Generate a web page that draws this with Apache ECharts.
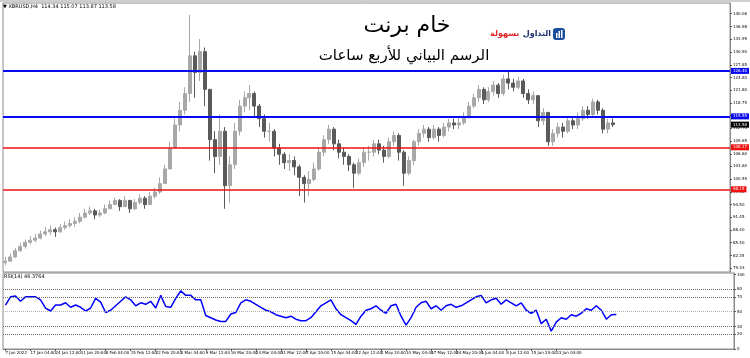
<!DOCTYPE html>
<html><head><meta charset="utf-8">
<script src="https://cdn.jsdelivr.net/npm/echarts@6/dist/echarts.min.js"></script>
<style>html,body{margin:0;padding:0;background:#fff}#c{width:750px;height:358px}</style>
</head><body><div id="c"></div>
<script>
const timeLabels = ["7 Jan 2022","17 Jan 04:00","24 Jan 12:00","31 Jan 20:00","8 Feb 04:00","15 Feb 12:00","22 Feb 20:00","2 Mar 04:00","9 Mar 12:00","16 Mar 20:00","24 Mar 04:00","31 Mar 12:00","7 Apr 20:00","15 Apr 04:00","22 Apr 12:00","2 May 20:00","10 May 04:00","17 May 12:00","24 May 20:00","1 Jun 04:00","8 Jun 12:00","15 Jun 20:00","23 Jun 04:00","30 Jun 12:00"];
const slotsPerLabel = 5;
const slotCount = 146;
const firstOpen = 80.6;
const closes = [81.0,82.0,83.5,84.5,85.5,86.0,86.5,87.5,88.0,88.5,88.0,89.0,89.5,90.0,90.5,91.5,92.5,93.0,92.0,92.5,93.5,94.5,95.5,94.0,95.5,93.5,95.0,96.0,94.5,96.5,97.5,99.5,103.0,108.0,113.5,117.0,121.0,130.0,126.0,131.0,122.0,110.0,106.0,112.0,99.0,104.0,112.0,118.0,120.0,121.0,118.0,115.0,112.0,112.0,108.0,106.5,104.5,105.0,103.5,101.0,99.5,100.5,103.0,107.0,110.0,112.5,109.0,107.0,106.0,104.0,102.0,104.5,107.0,107.0,109.0,107.5,106.0,109.5,111.0,107.0,102.0,105.0,109.5,111.5,112.5,110.5,112.5,111.0,113.0,114.0,113.5,114.0,115.5,118.0,120.0,122.0,119.5,121.5,123.0,121.0,124.5,123.5,122.5,124.0,121.0,119.5,120.5,114.5,116.5,109.5,111.5,113.0,112.0,114.5,113.5,115.0,117.0,116.0,119.0,117.0,112.5,114.0,113.58];
const highs = [82.0,82.8,84.2,85.3,86.2,87.0,87.5,88.3,89.2,89.5,89.0,89.8,90.5,91.0,91.5,92.5,93.5,94.0,93.5,93.2,94.5,95.5,96.2,95.8,96.5,95.5,95.8,97.0,96.5,97.5,98.5,101.0,104.0,109.5,115.0,119.0,122.5,139.8,131.0,134.0,132.0,122.0,112.0,116.0,113.0,106.0,114.0,119.5,121.5,123.0,121.5,118.5,116.0,114.0,112.5,109.0,107.0,106.5,106.0,104.0,101.5,102.5,104.5,108.0,111.0,113.5,113.0,110.0,108.0,106.5,104.5,105.5,108.0,108.5,110.0,110.0,108.5,110.5,112.0,111.5,107.5,106.0,110.0,112.5,113.5,113.0,113.5,113.0,114.0,115.0,115.0,115.5,116.5,119.0,121.0,123.0,122.5,122.5,124.0,123.5,125.5,126.2,124.5,125.0,124.5,122.0,121.5,120.5,117.5,116.5,112.5,114.0,114.0,115.5,115.5,116.5,118.0,118.0,119.8,119.5,117.5,115.0,115.07];
const lows = [80.0,80.8,81.8,83.2,84.0,85.0,85.5,86.2,87.0,87.2,86.8,87.8,88.5,89.0,89.2,90.0,91.2,92.0,91.0,91.5,92.2,93.5,94.5,93.0,94.0,92.5,93.2,94.5,93.5,94.5,96.0,97.0,99.5,103.0,108.0,112.0,116.0,119.0,120.0,124.0,118.0,105.0,102.0,104.0,93.5,95.0,103.0,111.0,116.5,117.0,115.5,113.0,110.5,109.5,106.0,104.0,103.0,102.5,101.5,96.5,95.0,96.5,100.0,102.5,106.0,109.0,107.5,105.5,104.0,102.5,98.5,101.5,103.5,105.0,106.0,106.5,104.5,105.5,108.5,105.0,99.0,101.5,104.0,108.5,110.5,109.5,110.0,109.5,110.5,112.0,112.5,112.5,113.5,115.0,117.5,119.0,118.5,119.0,120.5,120.0,120.5,122.0,121.5,122.0,120.0,118.5,118.5,113.0,113.5,108.5,108.5,110.5,110.5,111.5,112.5,112.5,114.5,115.0,115.5,116.0,111.5,111.5,113.0];
const rsiValues = [59,70,71,64,70,70,70,66,55,51,59,59,62,56,59,56,51,55,68,63,49,52,58,64,70,66,58,62,60,64,55,72,57,56,68,78,72,72,66,66,45,42,39,37,37,47,49,62,66,64,60,56,52,50,46,44,42,44,40,38,38,42,50,58,62,66,54,46,42,38,33,44,52,54,58,52,48,58,60,44,32,42,56,62,64,54,58,52,58,60,56,58,62,66,70,72,62,66,68,60,66,62,58,62,52,48,52,34,40,24,36,42,40,46,44,48,54,52,58,52,40,46,46.38];
const priceTicks = [79.33,82.35,85.40,88.40,91.45,94.50,97.50,100.55,103.60,106.60,109.65,112.70,115.73,118.75,121.80,124.80,127.85,130.90,133.95,136.98,140.06];
const rsiTicks = [0,20,30,50,70,80,100];
const rsiLevels = [80,70,50,30,20];
const blueLevels = [126.40,115.55];
const redLevels = [108.17,98.15];
const lastPrice = 113.58;
const headerText = "XBRUSD,H4  114.34 115.07 113.87 113.58";
const rsiHeader = "RSI(14) 46.3764";

const categories = [];
for (let i = 0; i < slotCount; i++) {
  categories.push(i % slotsPerLabel === 0 && i / slotsPerLabel < timeLabels.length ? timeLabels[i / slotsPerLabel] : 's' + i);
}
const showLabel = (idx) => idx % slotsPerLabel === 0 && idx / slotsPerLabel < timeLabels.length;
const ohlc = closes.map((c, i) => [i === 0 ? firstOpen : closes[i - 1], c, lows[i], highs[i]]);

const FONT = 'DejaVu Sans';
const lvlLabel = (bg) => ({show: true, position: 'end', distance: 1, formatter: (p) => p.value.toFixed(2), backgroundColor: bg, color: '#fff', fontSize: 4, fontFamily: FONT, padding: [1, 2]});
const markLines = [];
blueLevels.forEach(v => markLines.push({yAxis: v, lineStyle: {color: '#0a0af0', width: 2, type: 'solid'}, label: lvlLabel('#0a0af0')}));
redLevels.forEach(v => markLines.push({yAxis: v, lineStyle: {color: '#f01010', width: 1.5, type: 'solid'}, label: lvlLabel('#f01010')}));
markLines.push({yAxis: lastPrice, lineStyle: {color: 'rgba(0,0,0,0)', width: 0}, label: lvlLabel('#000')});

const rsiLines = rsiLevels.map(v => ({yAxis: v, lineStyle: {color: v === 50 ? '#b0b0b0' : '#707070', width: 1, type: [1, 1]}, label: {show: false}}));

const chart = echarts.init(document.getElementById('c'), null, {renderer: 'canvas'});
chart.setOption({
  animation: false,
  backgroundColor: '#fff',
  textStyle: {fontFamily: FONT},
  grid: [
    {left: 3, right: 16, top: 3, bottom: 86, show: true, borderColor: '#8c8c8c', borderWidth: 1},
    {left: 3, right: 16, top: 273, bottom: 9, show: true, borderColor: '#8c8c8c', borderWidth: 1}
  ],
  xAxis: [
    {type: 'category', gridIndex: 0, data: categories, boundaryGap: true, axisLine: {show: false}, axisTick: {show: false}, axisLabel: {show: false}, splitLine: {show: false}},
    {type: 'category', gridIndex: 1, data: categories, boundaryGap: true,
      axisLine: {show: true, lineStyle: {color: '#8c8c8c'}},
      axisTick: {show: true, interval: showLabel, alignWithLabel: true, length: 2, lineStyle: {color: '#555'}},
      axisLabel: {show: true, interval: showLabel, align: 'left', fontSize: 4, color: '#000', margin: 2, fontFamily: FONT},
      splitLine: {show: false}}
  ],
  yAxis: [
    {type: 'value', gridIndex: 0, position: 'right', min: 78.41, max: 142.61, scale: true,
      axisLine: {show: true, lineStyle: {color: '#8c8c8c'}},
      axisTick: {show: true, length: 2, customValues: priceTicks, lineStyle: {color: '#555'}},
      axisLabel: {show: true, customValues: priceTicks, fontSize: 4, color: '#000', margin: 3, fontFamily: FONT, formatter: (v) => v.toFixed(2)},
      splitLine: {show: false}},
    {type: 'value', gridIndex: 1, position: 'right', min: 0, max: 102,
      axisLine: {show: true, lineStyle: {color: '#8c8c8c'}},
      axisTick: {show: true, length: 2, customValues: rsiTicks, lineStyle: {color: '#555'}},
      axisLabel: {show: true, customValues: rsiTicks, fontSize: 4, color: '#000', margin: 3, fontFamily: FONT},
      splitLine: {show: false}}
  ],
  series: [
    {type: 'candlestick', xAxisIndex: 0, yAxisIndex: 0, data: ohlc, barWidth: 3.5,
      itemStyle: {color: '#a8a8a8', color0: '#5a5a5a', borderColor: '#a8a8a8', borderColor0: '#5a5a5a', borderWidth: 1},
      markLine: {silent: true, symbol: 'none', data: markLines}},
    {type: 'line', xAxisIndex: 1, yAxisIndex: 1, data: rsiValues, showSymbol: false, symbol: 'none',
      lineStyle: {color: '#0000ff', width: 1.5}, itemStyle: {color: '#0000ff'},
      markLine: {silent: true, symbol: 'none', data: rsiLines}}
  ],
  graphic: [
    {type: 'rect', left: 0, top: 0, shape: {width: 750, height: 2}, style: {fill: '#cfcfcf'}, silent: true},
    {type: 'text', left: 3, top: 4, style: {text: '▼ ' + headerText, fontSize: 5, fill: '#000', fontFamily: FONT}},
    {type: 'text', left: 4, top: 274, style: {text: rsiHeader, fontSize: 5, fill: '#000', fontFamily: FONT}},
    {type: 'text', x: 407, y: 26, style: {text: 'خام برنت', fontSize: 22, fill: '#000', fontFamily: FONT, align: 'center', verticalAlign: 'middle'}},
    {type: 'text', x: 404, y: 56, style: {text: 'الرسم البياني للأربع ساعات', fontSize: 15, fill: '#000', fontFamily: FONT, align: 'center', verticalAlign: 'middle'}},
    {type: 'text', x: 551, y: 34, style: {text: '{r|بسهولة} {b|التداول}', align: 'right', verticalAlign: 'middle',
      rich: {r: {fontSize: 8, fontWeight: 'bold', fill: '#e3262d', fontFamily: FONT}, b: {fontSize: 8, fontWeight: 'bold', fill: '#1d2f6f', fontFamily: FONT}}}},
    {type: 'rect', left: 553, top: 28, shape: {width: 12, height: 12, r: 3}, style: {fill: '#1d4fa0'}},
    {type: 'rect', left: 556, top: 33, shape: {width: 1.5, height: 5}, style: {fill: '#fff'}},
    {type: 'rect', left: 558.5, top: 31, shape: {width: 1.5, height: 7}, style: {fill: '#fff'}},
    {type: 'rect', left: 561, top: 30, shape: {width: 1.5, height: 8}, style: {fill: '#fff'}}
  ]
});
</script></body></html>
